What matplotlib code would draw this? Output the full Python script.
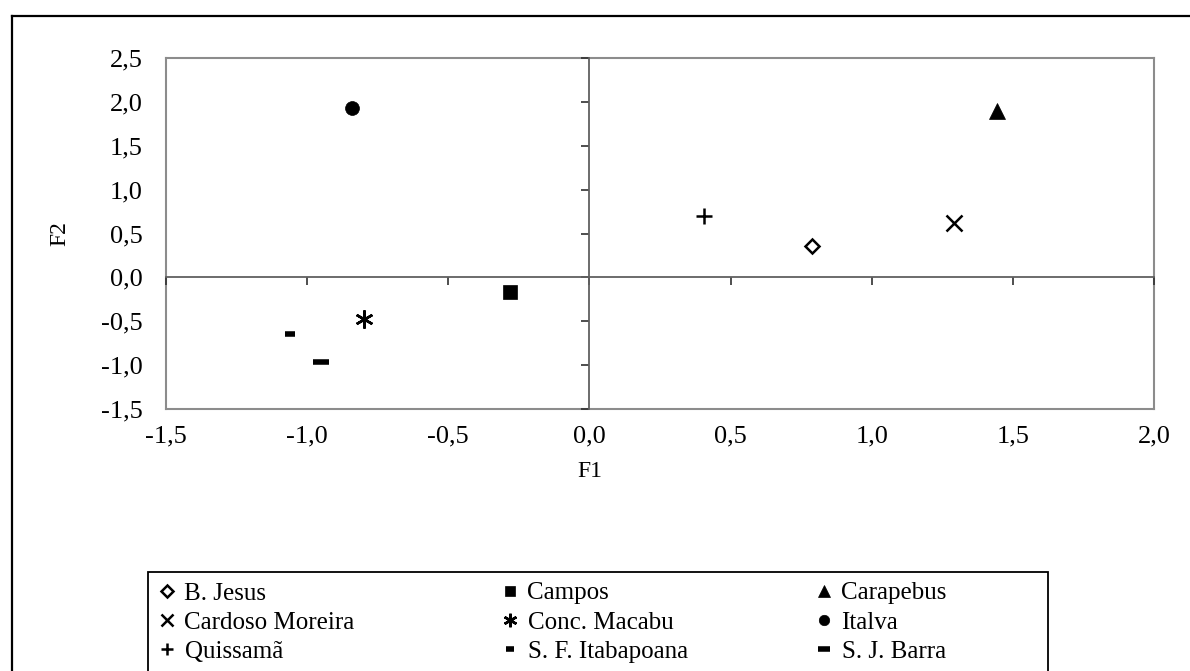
import matplotlib
matplotlib.use("Agg")
import matplotlib.pyplot as plt
from matplotlib.lines import Line2D
from matplotlib.patches import Rectangle

plt.rcParams['font.family'] = ['Liberation Serif', 'DejaVu Serif']

# ---- data ----
names = ["B. Jesus", "Campos", "Carapebus", "Cardoso Moreira", "Conc. Macabu",
         "Italva", "Quissamã", "S. F. Itabapoana", "S. J. Barra"]
f1 = [0.79, -0.28, 1.445, 1.29, -0.80, -0.84, 0.405, -1.06, -0.95]
f2 = [0.36, -0.17, 1.90, 0.615, -0.48, 1.925, 0.70, -0.64, -0.96]
xticks = [-1.5, -1.0, -0.5, 0.0, 0.5, 1.0, 1.5, 2.0]
yticks = [-1.5, -1.0, -0.5, 0.0, 0.5, 1.0, 1.5, 2.0, 2.5]

# ---- styles ----
styles = [
    dict(marker='D', ms=7.5, mfc='white', mec='black', mew=1.8),
    dict(marker='s', ms=9.5, mfc='black', mec='black', mew=0.5),
    dict(marker='^', ms=11, mfc='black', mec='black', mew=0.5),
    dict(marker='x', ms=11, mfc='black', mec='black', mew=1.8),
    dict(marker=(6, 2, 0), ms=13, mfc='black', mec='black', mew=1.8),
    dict(marker='o', ms=10, mfc='black', mec='black', mew=0.5),
    dict(marker='+', ms=11, mfc='black', mec='black', mew=1.8),
    dict(marker='_', ms=7, mfc='black', mec='black', mew=4),
    dict(marker='_', ms=12, mfc='black', mec='black', mew=4),
]

W, H = 1190, 671
fig = plt.figure(figsize=(W / 100, H / 100), dpi=100)

L, R, T, B = 166, 1154, 58, 409
rect = [L / W, 1 - B / H, (R - L) / W, (B - T) / H]
ax = fig.add_axes(rect)
ax.set_xlim(-1.5, 2.0)
ax.set_ylim(-1.5, 2.5)
ax.set_xticks(xticks)
ax.set_yticks(yticks)
fmt = lambda v: f"{v:.1f}".replace('.', ',')
ax.set_xticklabels([fmt(v) for v in xticks], fontsize=19)
ax.set_yticklabels([fmt(v) for v in yticks], fontsize=19)
ax.tick_params(axis='both', length=0)
ax.tick_params(axis='y', pad=17)
ax.tick_params(axis='x', pad=12)
for s in ax.spines.values():
    s.set_color('#8c8c8c')
    s.set_linewidth(1.5)
ax.set_xlabel("F1", fontsize=17)
ax.set_ylabel("F2", fontsize=17)
ax.xaxis.set_label_coords((590 - L) / (R - L), -(472 - B) / (B - T), transform=ax.transAxes)
ax.xaxis.label.set_va('center')
ax.yaxis.set_label_coords(-(L - 60) / (R - L), 0.5, transform=ax.transAxes)
ax.yaxis.label.set_va('center')

# zero axes with tick marks
ax2 = fig.add_axes(rect, sharex=ax, sharey=ax)
ax2.patch.set_visible(False)
ax2.spines['top'].set_visible(False)
ax2.spines['right'].set_visible(False)
ax2.spines['left'].set_position(('data', 0))
ax2.spines['bottom'].set_position(('data', 0))
for k in ('left', 'bottom'):
    ax2.spines[k].set_color('#606060')
    ax2.spines[k].set_linewidth(1.3)
ax2.tick_params(axis='both', direction='out', length=6, width=1.2, color='#303030',
                labelleft=False, labelbottom=False)
ax2.set_xlim(-1.5, 2.0)
ax2.set_ylim(-1.5, 2.5)

handles = []
for x, y, n, st in zip(f1, f2, names, styles):
    h, = ax2.plot([x], [y], linestyle='none', label=n, clip_on=False, **st)
    handles.append(h)

# legend: three columns placed manually
col_x = [157, 500, 814]
for c in range(3):
    hs = [handles[c], handles[c + 3], handles[c + 6]]
    fig.legend(handles=hs, labels=[h.get_label() for h in hs],
               loc='upper left', bbox_to_anchor=(col_x[c] / W, 1 - 582 / H),
               frameon=False, fontsize=18, handlelength=0.8, handletextpad=0.3,
               labelspacing=0.27, markerscale=0.75, borderpad=0.0, borderaxespad=0)

# legend box (extends beyond bottom edge)
fig.add_artist(Rectangle((148 / W, -0.1), (1048 - 148) / W, (1 - 572 / H) + 0.1,
                         transform=fig.transFigure, fill=False, edgecolor='black',
                         linewidth=1.3))
# outer chart frame (cut at right and bottom)
fig.add_artist(Line2D([12 / W, 1.01], [1 - 16 / H, 1 - 16 / H], transform=fig.transFigure,
                      color='black', linewidth=1.6))
fig.add_artist(Line2D([12 / W, 12 / W], [1 - 16 / H, -0.01], transform=fig.transFigure,
                      color='black', linewidth=1.6))

fig.savefig("out.png", dpi=100)
